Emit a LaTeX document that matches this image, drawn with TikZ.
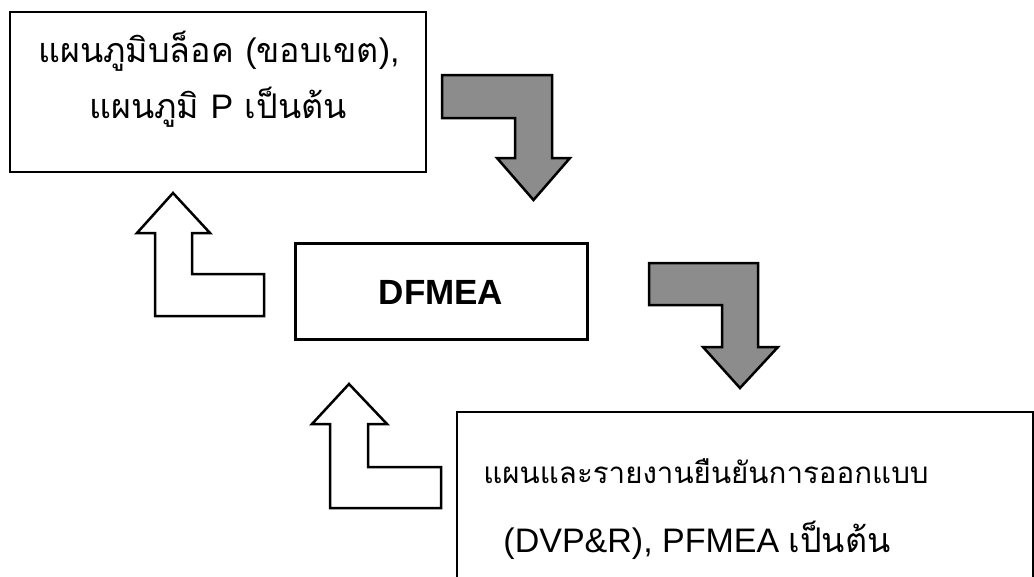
\documentclass[tikz,border=0pt]{standalone}
\usepackage{fontspec}
\setmainfont{Liberation Sans}
\newfontfamily\thaifont[Script=Thai]{Loma}
\usetikzlibrary{positioning}

\tikzset{
  box/.style={draw, line width=2pt},
  line/.style={anchor=base, inner sep=0pt, font=\fontsize{34}{40}\selectfont},
  grayturn/.style={draw, line width=2.5pt, fill=black!45, line join=miter},
  whiteturn/.style={draw, line width=2.5pt, fill=white, line join=miter}
}

\begin{document}
\begin{tikzpicture}[x=1pt, y=-1pt]
\useasboundingbox (0,0) rectangle (1034,576);

% top left box
\draw[box] (10,12) rectangle (426,172);
\node[line] (blkone) at (219,62) {\thaifont แผนภูมิบล็อค {\normalfont (}ขอบเขต{\normalfont ),}};
\node[line] (blktwo) at (218,118) {\thaifont แผนภูมิ {\normalfont P} เป็นต้น};

% middle box
\draw[box, line width=3pt] (295,243) rectangle (587,339);
\node[line, font=\fontsize{35}{40}\selectfont\bfseries] (dfmea) at (441,304) {DFMEA};

% bottom right box (runs off the page)
\draw[box] (457,590) -- (457,412) -- (1033,412) -- (1033,590);
\node[line, font=\fontsize{29.5}{36}\selectfont] (dvpone) at (706,483) {\thaifont แผนและรายงานยืนยันการออกแบบ};
\node[line] (dvptwo) at (697,552) {(DVP\&R), PFMEA {\thaifont เป็นต้น}};

% gray arrows
\draw[grayturn] (442,75) -- (552,75) -- (552,158) -- (570,158) -- (533.5,200)
  -- (497,158) -- (515,158) -- (515,118) -- (442,118) -- cycle;
\draw[grayturn] (649,263) -- (758,263) -- (758,347) -- (778,347) -- (740,388)
  -- (703,347) -- (722,347) -- (722,305) -- (649,305) -- cycle;

% white arrows
\draw[whiteturn] (173,193) -- (210,233) -- (192,233) -- (192,274) -- (264,274)
  -- (264,316) -- (155,316) -- (155,233) -- (137,233) -- cycle;
\draw[whiteturn] (349,384) -- (387,424) -- (368,424) -- (368,467) -- (441,467)
  -- (441,508) -- (330,508) -- (330,424) -- (312,424) -- cycle;

\end{tikzpicture}
\end{document}
